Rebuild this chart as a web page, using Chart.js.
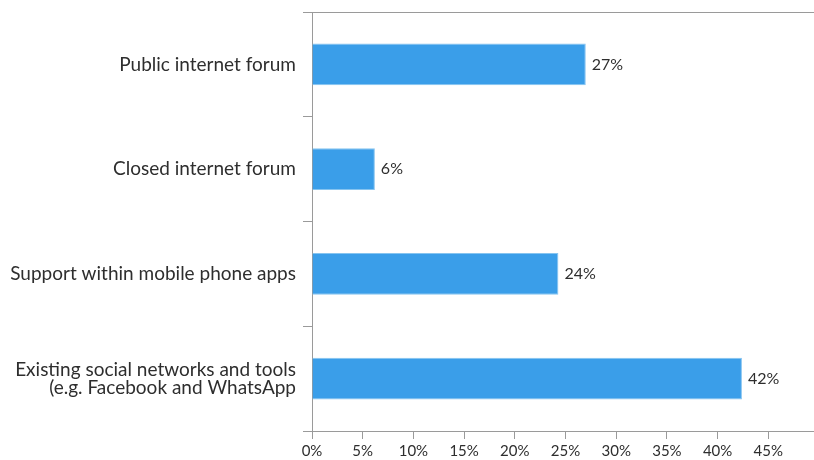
<!DOCTYPE html>
<html lang="en">
<head>
  <meta charset="UTF-8">
  <title>Support channels</title>
  <style>
    html, body { margin: 0; padding: 0; background: #fff; overflow: hidden; }
    #wrap { width: 814px; height: 460px; overflow: hidden; }
  </style>
  <script src="https://cdn.jsdelivr.net/npm/chart.js@4.4.0/dist/chart.umd.min.js"></script>
</head>
<body>
<div id="wrap">
  <canvas id="myChart" width="822" height="460"></canvas>
</div>

<script>
// data
var categories = [
  'Public internet forum',
  'Closed internet forum',
  'Support within mobile phone apps',
  ['Existing social networks and tools', '(e.g. Facebook and WhatsApp']
];
var shares = [27, 6.2, 24.3, 42.4];
var xTicks = [0, 5, 10, 15, 20, 25, 30, 35, 40, 45];

var axisGrey = '#9a9a9a';
var textCol = '#2e2e2e';

// value labels at the end of each bar
var barLabels = {
  id: 'barLabels',
  afterDatasetsDraw: function(chart) {
    var ctx = chart.ctx;
    var meta = chart.getDatasetMeta(0);
    ctx.save();
    ctx.font = '16px Lato';
    ctx.fillStyle = textCol;
    ctx.textBaseline = 'middle';
    ctx.textAlign = 'left';
    meta.data.forEach(function(bar, i) {
      ctx.fillText(Math.round(shares[i]) + '%', bar.x + 6, bar.y);
    });
    ctx.restore();
  }
};

var ctx = document.getElementById('myChart').getContext('2d');
var chart = new Chart(ctx, {
  type: 'bar',
  data: {
    labels: categories,
    datasets: [{
      data: shares,
      backgroundColor: '#3a9ee9',
      borderColor: '#86c4f0',
      borderWidth: 1,
      barPercentage: 0.4,
      categoryPercentage: 1
    }]
  },
  options: {
    indexAxis: 'y',
    responsive: false,
    animation: false,
    layout: { padding: 0 },
    plugins: { legend: { display: false }, tooltip: { enabled: false } },
    scales: {
      x: {
        min: 0,
        max: 50,
        afterBuildTicks: function(scale) {
          scale.ticks = xTicks.concat([50]).map(function(v) { return { value: v }; });
        },
        afterFit: function(scale) { scale.height = 29; },
        border: { color: axisGrey, width: 1 },
        grid: { drawOnChartArea: false, tickLength: 8, color: axisGrey, tickColor: axisGrey },
        ticks: {
          padding: 3,
          color: textCol,
          font: { family: 'Lato', size: 15 },
          callback: function(v) { return xTicks.indexOf(v) >= 0 ? v + '%' : ''; }
        }
      },
      y: {
        afterFit: function(scale) {
          scale.width = 312;
          scale.paddingTop = 12;
          scale.paddingBottom = 0;
        },
        border: { color: axisGrey, width: 1 },
        grid: {
          offset: true,
          tickLength: 9,
          tickColor: axisGrey,
          color: function(c) { return c.index === 0 ? axisGrey : 'rgba(0,0,0,0)'; }
        },
        ticks: {
          padding: 7,
          color: textCol,
          font: { family: 'Lato', size: 19, lineHeight: 0.95 }
        }
      }
    }
  },
  plugins: [barLabels]
});
</script>
</body>
</html>
